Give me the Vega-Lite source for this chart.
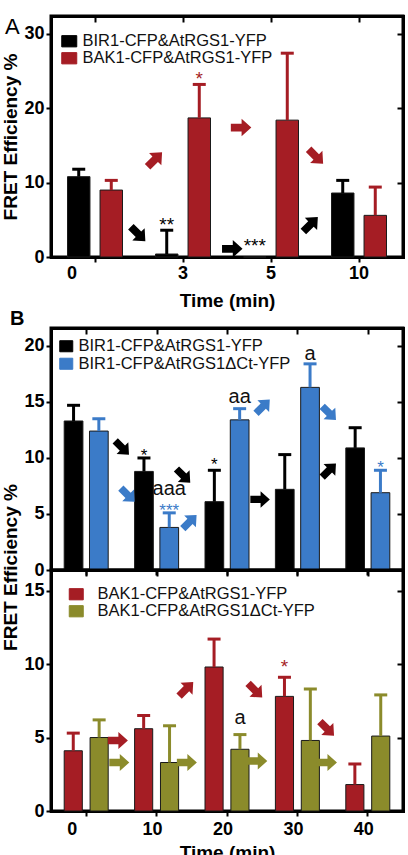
{
  "$schema": "https://vega.github.io/schema/vega-lite/v6.json",
  "background": "white",
  "padding": {"left": 0, "top": 13, "right": 0, "bottom": 0},
  "config": {
    "font": "Liberation Sans",
    "view": {"stroke": "#000", "strokeWidth": 3},
    "axis": {"domain": true, "domainColor": "#000", "domainWidth": 3, "domainCap": "square", "grid": false, "tickColor": "#000", "tickWidth": 2, "tickSize": 5, "labelFont": "Liberation Sans", "labelFontSize": 18, "labelFontWeight": "bold", "labelColor": "#000", "labelPadding": 2, "titleFont": "Liberation Sans", "titleFontSize": 19, "titleFontWeight": "bold", "titleColor": "#000"},
    "title": {"font": "Liberation Sans", "color": "#000"},
    "text": {"font": "Liberation Sans"},
    "tick": {"opacity": 1},
    "point": {"opacity": 1}
  },
  "datasets": {
    "A_bars": [
      {"time": "0", "series": "BIR1-CFP&AtRGS1-YFP", "fret": 10.8, "upper": 11.8},
      {"time": "0", "series": "BAK1-CFP&AtRGS1-YFP", "fret": 9.0, "upper": 10.3},
      {"time": "3", "series": "BIR1-CFP&AtRGS1-YFP", "fret": 0.4, "upper": 3.6},
      {"time": "3", "series": "BAK1-CFP&AtRGS1-YFP", "fret": 18.7, "upper": 23.2},
      {"time": "5", "series": "BIR1-CFP&AtRGS1-YFP", "fret": 0, "upper": null},
      {"time": "5", "series": "BAK1-CFP&AtRGS1-YFP", "fret": 18.4, "upper": 27.4},
      {"time": "10", "series": "BIR1-CFP&AtRGS1-YFP", "fret": 8.6, "upper": 10.3},
      {"time": "10", "series": "BAK1-CFP&AtRGS1-YFP", "fret": 5.6, "upper": 9.4}
    ],
    "A_notes": [
      {"time": "3", "series": "BIR1-CFP&AtRGS1-YFP", "label": "**", "kind": "star", "level": 4.7},
      {"time": "3", "series": "BAK1-CFP&AtRGS1-YFP", "label": "*", "kind": "star", "level": 24.4},
      {"time": "5", "series": "BIR1-CFP&AtRGS1-YFP", "label": "***", "kind": "star", "level": 1.9}
    ],
    "A_arrows": [
      {"series": "BIR1-CFP&AtRGS1-YFP", "pos": 0.99, "level": 3.1, "dir": "down-right"},
      {"series": "BAK1-CFP&AtRGS1-YFP", "pos": 1.18, "level": 13.1, "dir": "up-right"},
      {"series": "BAK1-CFP&AtRGS1-YFP", "pos": 2.16, "level": 17.4, "dir": "right"},
      {"series": "BIR1-CFP&AtRGS1-YFP", "pos": 2.06, "level": 1.1, "dir": "right"},
      {"series": "BAK1-CFP&AtRGS1-YFP", "pos": 3.01, "level": 13.5, "dir": "down-right"},
      {"series": "BIR1-CFP&AtRGS1-YFP", "pos": 2.95, "level": 4.4, "dir": "up-right"}
    ],
    "B1_bars": [
      {"time": "0", "series": "BIR1-CFP&AtRGS1-YFP", "fret": 13.3, "upper": 14.7},
      {"time": "0", "series": "BIR1-CFP&AtRGS1ΔCt-YFP", "fret": 12.4, "upper": 13.5},
      {"time": "10", "series": "BIR1-CFP&AtRGS1-YFP", "fret": 8.8, "upper": 10.0},
      {"time": "10", "series": "BIR1-CFP&AtRGS1ΔCt-YFP", "fret": 3.8, "upper": 5.1},
      {"time": "20", "series": "BIR1-CFP&AtRGS1-YFP", "fret": 6.1, "upper": 8.9},
      {"time": "20", "series": "BIR1-CFP&AtRGS1ΔCt-YFP", "fret": 13.4, "upper": 14.4},
      {"time": "30", "series": "BIR1-CFP&AtRGS1-YFP", "fret": 7.2, "upper": 10.3},
      {"time": "30", "series": "BIR1-CFP&AtRGS1ΔCt-YFP", "fret": 16.3, "upper": 18.4},
      {"time": "40", "series": "BIR1-CFP&AtRGS1-YFP", "fret": 10.9, "upper": 12.7},
      {"time": "40", "series": "BIR1-CFP&AtRGS1ΔCt-YFP", "fret": 6.9, "upper": 8.9}
    ],
    "B1_notes": [
      {"time": "10", "series": "BIR1-CFP&AtRGS1-YFP", "label": "*", "kind": "star", "level": 10.4},
      {"time": "10", "series": "BIR1-CFP&AtRGS1ΔCt-YFP", "label": "***", "kind": "star", "level": 5.5},
      {"time": "20", "series": "BIR1-CFP&AtRGS1-YFP", "label": "*", "kind": "star", "level": 9.6},
      {"time": "40", "series": "BIR1-CFP&AtRGS1ΔCt-YFP", "label": "*", "kind": "star", "level": 9.4},
      {"time": "10", "series": "BIR1-CFP&AtRGS1ΔCt-YFP", "label": "aaa", "kind": "letter", "level": 7.2},
      {"time": "20", "series": "BIR1-CFP&AtRGS1ΔCt-YFP", "label": "aa", "kind": "letter", "level": 15.4},
      {"time": "30", "series": "BIR1-CFP&AtRGS1ΔCt-YFP", "label": "a", "kind": "letter", "level": 19.3}
    ],
    "B1_arrows": [
      {"series": "BIR1-CFP&AtRGS1-YFP", "pos": 1.01, "level": 10.9, "dir": "down-right"},
      {"series": "BIR1-CFP&AtRGS1ΔCt-YFP", "pos": 1.09, "level": 6.7, "dir": "down-right"},
      {"series": "BIR1-CFP&AtRGS1-YFP", "pos": 1.88, "level": 8.4, "dir": "down-right"},
      {"series": "BIR1-CFP&AtRGS1ΔCt-YFP", "pos": 1.97, "level": 4.3, "dir": "up-right"},
      {"series": "BIR1-CFP&AtRGS1ΔCt-YFP", "pos": 3.01, "level": 14.6, "dir": "up-right"},
      {"series": "BIR1-CFP&AtRGS1-YFP", "pos": 2.97, "level": 6.3, "dir": "right"},
      {"series": "BIR1-CFP&AtRGS1ΔCt-YFP", "pos": 3.95, "level": 14.0, "dir": "down-right"},
      {"series": "BIR1-CFP&AtRGS1-YFP", "pos": 3.95, "level": 8.9, "dir": "up-right"}
    ],
    "B2_bars": [
      {"time": "0", "series": "BAK1-CFP&AtRGS1-YFP", "fret": 4.1, "upper": 5.3},
      {"time": "0", "series": "BAK1-CFP&AtRGS1ΔCt-YFP", "fret": 5.0, "upper": 6.2},
      {"time": "10", "series": "BAK1-CFP&AtRGS1-YFP", "fret": 5.6, "upper": 6.5},
      {"time": "10", "series": "BAK1-CFP&AtRGS1ΔCt-YFP", "fret": 3.3, "upper": 5.8},
      {"time": "20", "series": "BAK1-CFP&AtRGS1-YFP", "fret": 9.8, "upper": 11.7},
      {"time": "20", "series": "BAK1-CFP&AtRGS1ΔCt-YFP", "fret": 4.2, "upper": 5.2},
      {"time": "30", "series": "BAK1-CFP&AtRGS1-YFP", "fret": 7.8, "upper": 9.1},
      {"time": "30", "series": "BAK1-CFP&AtRGS1ΔCt-YFP", "fret": 4.8, "upper": 8.3},
      {"time": "40", "series": "BAK1-CFP&AtRGS1-YFP", "fret": 1.8, "upper": 3.2},
      {"time": "40", "series": "BAK1-CFP&AtRGS1ΔCt-YFP", "fret": 5.1, "upper": 7.9}
    ],
    "B2_notes": [
      {"time": "30", "series": "BAK1-CFP&AtRGS1-YFP", "label": "*", "kind": "star", "level": 10.0},
      {"time": "20", "series": "BAK1-CFP&AtRGS1ΔCt-YFP", "label": "a", "kind": "letter", "level": 6.3}
    ],
    "B2_arrows": [
      {"series": "BAK1-CFP&AtRGS1-YFP", "pos": 0.95, "level": 4.8, "dir": "right"},
      {"series": "BAK1-CFP&AtRGS1ΔCt-YFP", "pos": 0.97, "level": 3.3, "dir": "right"},
      {"series": "BAK1-CFP&AtRGS1ΔCt-YFP", "pos": 1.93, "level": 3.3, "dir": "right"},
      {"series": "BAK1-CFP&AtRGS1-YFP", "pos": 1.92, "level": 8.3, "dir": "up-right"},
      {"series": "BAK1-CFP&AtRGS1ΔCt-YFP", "pos": 2.93, "level": 3.4, "dir": "right"},
      {"series": "BAK1-CFP&AtRGS1-YFP", "pos": 2.90, "level": 8.2, "dir": "down-right"},
      {"series": "BAK1-CFP&AtRGS1ΔCt-YFP", "pos": 3.92, "level": 3.3, "dir": "right"},
      {"series": "BAK1-CFP&AtRGS1-YFP", "pos": 3.92, "level": 5.6, "dir": "down-right"}
    ]
  },
  "bounds": "flush",
  "spacing": 71,
  "resolve": {"scale": {"color": "independent", "x": "independent", "y": "independent", "xOffset": "independent"}},
  "vconcat": [
    {
      "width": 352, "height": 241,
      "title": {"text": "A", "anchor": "start", "frame": "group", "offset": -24, "dx": -46, "fontSize": 22, "fontWeight": "normal"},
      "resolve": {"scale": {"x": "independent"}, "axis": {"x": "independent", "y": "independent"}},
      "layer": [
        {"layer": [
          {"data": {"name": "A_bars"},
           "mark": {"type": "bar", "stroke": "#1a1a1a", "strokeWidth": 1, "opacity": 1},
           "encoding": {
             "x": {"field": "time", "type": "nominal", "scale": {"type": "band", "domain": ["0", "3", "5", "10"], "paddingInner": 0.375, "paddingOuter": 0.1875}, "axis": {"title": "Time (min)", "labelAngle": 0, "titlePadding": 9, "labelOffset": {"condition": {"test": "datum.value == '0'", "value": -23}, "value": 0}}},
             "xOffset": {"field": "series", "type": "nominal", "scale": {"domain": ["BIR1-CFP&AtRGS1-YFP", "BAK1-CFP&AtRGS1-YFP"], "paddingInner": 0.31, "paddingOuter": 0}},
             "y": {"field": "fret", "type": "quantitative", "scale": {"domain": [0, 32.4], "nice": false}, "axis": {"values": [0, 10, 20, 30], "title": "FRET Efficiency %", "titlePadding": 3}},
             "color": {"field": "series", "type": "nominal", "scale": {"domain": ["BIR1-CFP&AtRGS1-YFP", "BAK1-CFP&AtRGS1-YFP"], "range": ["#000000", "#a51d24"]},
               "legend": {"title": null, "orient": "none", "legendX": 10, "legendY": 17, "padding": 0, "symbolType": "M-1,-0.75H1V0.75H-1Z", "symbolSize": 225, "symbolOpacity": 1, "symbolStrokeColor": "#111", "symbolStrokeWidth": 1, "labelFontSize": 16.5, "labelFont": "Liberation Sans", "labelColor": "#111", "labelOffset": 5, "rowPadding": -1.5, "labelLimit": 400}}
           }},
          {"data": {"name": "A_bars"}, "transform": [{"filter": "isValid(datum.upper)"}],
           "mark": {"type": "rule", "strokeWidth": 3, "opacity": 1},
           "encoding": {"x": {"field": "time", "type": "nominal"}, "xOffset": {"field": "series", "type": "nominal"}, "y": {"field": "fret", "type": "quantitative"}, "y2": {"field": "upper"}, "color": {"field": "series", "type": "nominal"}}},
          {"data": {"name": "A_bars"}, "transform": [{"filter": "isValid(datum.upper)"}],
           "mark": {"type": "tick", "thickness": 3, "size": 13, "opacity": 1},
           "encoding": {"x": {"field": "time", "type": "nominal"}, "xOffset": {"field": "series", "type": "nominal"}, "y": {"field": "upper", "type": "quantitative"}, "color": {"field": "series", "type": "nominal"}}},
          {"data": {"name": "A_notes"}, "transform": [{"filter": "datum.kind == 'star'"}],
           "mark": {"type": "text", "fontSize": 19, "baseline": "middle", "dy": 3},
           "encoding": {"x": {"field": "time", "type": "nominal"}, "xOffset": {"field": "series", "type": "nominal"}, "y": {"field": "level", "type": "quantitative"}, "text": {"field": "label"}, "color": {"field": "series", "type": "nominal"}}}
        ]},
        {"data": {"name": "A_arrows"},
         "mark": {"type": "point", "shape": "M-1,-0.38L0.05,-0.38L0.05,-0.85L1,0L0.05,0.85L0.05,0.38L-1,0.38Z", "filled": true, "size": 420, "opacity": 1, "strokeWidth": 0},
         "encoding": {
           "x": {"field": "pos", "type": "quantitative", "scale": {"domain": [0, 4], "nice": false}, "axis": {"orient": "top", "values": [0.5, 1.5, 2.5, 3.5], "labels": false, "title": null, "tickSize": -6}},
           "y": {"field": "level", "type": "quantitative", "scale": {"domain": [0, 32.4], "nice": false}, "axis": {"orient": "right", "values": [0, 10, 20, 30], "labels": false, "title": null, "tickSize": -6}},
           "color": {"field": "series", "type": "nominal"},
           "angle": {"field": "dir", "type": "nominal", "scale": {"type": "ordinal", "domain": ["right", "down-right", "up-right"], "range": [0, 45, 315]}, "legend": null}
         }}
      ]
    },
    {
      "bounds": "flush",
      "spacing": 0,
      "resolve": {"scale": {"color": "independent", "x": "independent", "y": "independent", "xOffset": "independent"}},
      "vconcat": [
        {
          "width": 352, "height": 242,
          "title": {"text": "B", "anchor": "start", "frame": "group", "offset": -2, "dx": -41, "fontSize": 20, "fontWeight": "bold"},
          "resolve": {"scale": {"x": "independent"}, "axis": {"x": "independent", "y": "independent"}},
          "layer": [
            {"layer": [
              {"data": {"name": "B1_bars"},
               "mark": {"type": "bar", "stroke": "#1a1a1a", "strokeWidth": 1, "opacity": 1},
               "encoding": {
                 "x": {"field": "time", "type": "nominal", "scale": {"type": "band", "domain": ["0", "10", "20", "30", "40"], "paddingInner": 0.375, "paddingOuter": 0.1875}, "axis": {"title": null, "labels": false}},
                 "xOffset": {"field": "series", "type": "nominal", "scale": {"domain": ["BIR1-CFP&AtRGS1-YFP", "BIR1-CFP&AtRGS1ΔCt-YFP"], "paddingInner": 0.26, "paddingOuter": 0}},
                 "y": {"field": "fret", "type": "quantitative", "scale": {"domain": [0, 21.6], "nice": false}, "axis": {"values": [0, 5, 10, 15, 20], "title": "FRET Efficiency %", "titlePadding": 3, "titleY": 239}},
                 "color": {"field": "series", "type": "nominal", "scale": {"domain": ["BIR1-CFP&AtRGS1-YFP", "BIR1-CFP&AtRGS1ΔCt-YFP"], "range": ["#000000", "#3b7bc8"]},
                   "legend": {"title": null, "orient": "none", "legendX": 7, "legendY": 10, "padding": 0, "symbolType": "M-1,-0.85H1V0.85H-1Z", "symbolSize": 169, "symbolOpacity": 1, "symbolStrokeColor": "#111", "symbolStrokeWidth": 1, "labelFontSize": 16.5, "labelFont": "Liberation Sans", "labelColor": "#111", "labelOffset": 4, "rowPadding": 0.5, "labelLimit": 400}}
               }},
              {"data": {"name": "B1_bars"},
               "mark": {"type": "rule", "strokeWidth": 3, "opacity": 1},
               "encoding": {"x": {"field": "time", "type": "nominal"}, "xOffset": {"field": "series", "type": "nominal"}, "y": {"field": "fret", "type": "quantitative"}, "y2": {"field": "upper"}, "color": {"field": "series", "type": "nominal"}}},
              {"data": {"name": "B1_bars"},
               "mark": {"type": "tick", "thickness": 3, "size": 13, "opacity": 1},
               "encoding": {"x": {"field": "time", "type": "nominal"}, "xOffset": {"field": "series", "type": "nominal"}, "y": {"field": "upper", "type": "quantitative"}, "color": {"field": "series", "type": "nominal"}}},
              {"data": {"name": "B1_notes"}, "transform": [{"filter": "datum.kind == 'star'"}],
               "mark": {"type": "text", "fontSize": 17, "baseline": "middle", "dy": 3},
               "encoding": {"x": {"field": "time", "type": "nominal"}, "xOffset": {"field": "series", "type": "nominal"}, "y": {"field": "level", "type": "quantitative"}, "text": {"field": "label"}, "color": {"field": "series", "type": "nominal"}}},
              {"data": {"name": "B1_notes"}, "transform": [{"filter": "datum.kind == 'letter'"}],
               "mark": {"type": "text", "fontSize": 20, "baseline": "middle", "color": "#111"},
               "encoding": {"x": {"field": "time", "type": "nominal"}, "xOffset": {"field": "series", "type": "nominal"}, "y": {"field": "level", "type": "quantitative"}, "text": {"field": "label"}}}
            ]},
            {"data": {"name": "B1_arrows"},
             "mark": {"type": "point", "shape": "M-1,-0.38L0.05,-0.38L0.05,-0.85L1,0L0.05,0.85L0.05,0.38L-1,0.38Z", "filled": true, "size": 380, "opacity": 1, "strokeWidth": 0},
             "encoding": {
               "x": {"field": "pos", "type": "quantitative", "scale": {"domain": [0, 5], "nice": false}, "axis": {"orient": "top", "values": [0.5, 1.5, 2.5, 3.5, 4.5], "labels": false, "title": null, "tickSize": -6}},
               "y": {"field": "level", "type": "quantitative", "scale": {"domain": [0, 21.6], "nice": false}, "axis": {"orient": "right", "values": [0, 5, 10, 15, 20], "labels": false, "title": null, "tickSize": -6}},
               "color": {"field": "series", "type": "nominal"},
               "angle": {"field": "dir", "type": "nominal", "scale": {"type": "ordinal", "domain": ["right", "down-right", "up-right"], "range": [0, 45, 315]}, "legend": null}
             }}
          ]
        },
        {
          "width": 352, "height": 241,
          "resolve": {"scale": {"x": "independent"}, "axis": {"x": "independent", "y": "independent"}},
          "layer": [
            {"layer": [
              {"data": {"name": "B2_bars"},
               "mark": {"type": "bar", "stroke": "#1a1a1a", "strokeWidth": 1, "opacity": 1},
               "encoding": {
                 "x": {"field": "time", "type": "nominal", "scale": {"type": "band", "domain": ["0", "10", "20", "30", "40"], "paddingInner": 0.375, "paddingOuter": 0.1875}, "axis": {"title": "Time (min)", "labelAngle": 0, "labelPadding": 4, "titlePadding": 5, "labelOffset": {"condition": {"test": "datum.value == '0'", "value": -14}, "value": -4}}},
                 "xOffset": {"field": "series", "type": "nominal", "scale": {"domain": ["BAK1-CFP&AtRGS1-YFP", "BAK1-CFP&AtRGS1ΔCt-YFP"], "paddingInner": 0.3, "paddingOuter": 0}},
                 "y": {"field": "fret", "type": "quantitative", "scale": {"domain": [0, 16.4], "nice": false}, "axis": {"values": [0, 5, 10, 15], "title": null}},
                 "color": {"field": "series", "type": "nominal", "scale": {"domain": ["BAK1-CFP&AtRGS1-YFP", "BAK1-CFP&AtRGS1ΔCt-YFP"], "range": ["#a51d24", "#8b8b2b"]},
                   "legend": {"title": null, "orient": "none", "legendX": 17, "legendY": 16, "padding": 0, "symbolType": "M-1,-0.8H1V0.8H-1Z", "symbolSize": 196, "symbolOpacity": 1, "symbolStrokeColor": "#111", "symbolStrokeWidth": 1, "labelFontSize": 16.5, "labelFont": "Liberation Sans", "labelColor": "#111", "labelOffset": 13, "rowPadding": -1.5, "labelLimit": 400}}
               }},
              {"data": {"name": "B2_bars"},
               "mark": {"type": "rule", "strokeWidth": 3, "opacity": 1},
               "encoding": {"x": {"field": "time", "type": "nominal"}, "xOffset": {"field": "series", "type": "nominal"}, "y": {"field": "fret", "type": "quantitative"}, "y2": {"field": "upper"}, "color": {"field": "series", "type": "nominal"}}},
              {"data": {"name": "B2_bars"},
               "mark": {"type": "tick", "thickness": 3, "size": 13, "opacity": 1},
               "encoding": {"x": {"field": "time", "type": "nominal"}, "xOffset": {"field": "series", "type": "nominal"}, "y": {"field": "upper", "type": "quantitative"}, "color": {"field": "series", "type": "nominal"}}},
              {"data": {"name": "B2_notes"}, "transform": [{"filter": "datum.kind == 'star'"}],
               "mark": {"type": "text", "fontSize": 19, "baseline": "middle", "dy": 3},
               "encoding": {"x": {"field": "time", "type": "nominal"}, "xOffset": {"field": "series", "type": "nominal"}, "y": {"field": "level", "type": "quantitative"}, "text": {"field": "label"}, "color": {"field": "series", "type": "nominal"}}},
              {"data": {"name": "B2_notes"}, "transform": [{"filter": "datum.kind == 'letter'"}],
               "mark": {"type": "text", "fontSize": 20, "baseline": "middle", "color": "#111"},
               "encoding": {"x": {"field": "time", "type": "nominal"}, "xOffset": {"field": "series", "type": "nominal"}, "y": {"field": "level", "type": "quantitative"}, "text": {"field": "label"}}}
            ]},
            {"data": {"name": "B2_arrows"},
             "mark": {"type": "point", "shape": "M-1,-0.38L0.05,-0.38L0.05,-0.85L1,0L0.05,0.85L0.05,0.38L-1,0.38Z", "filled": true, "size": 400, "opacity": 1, "strokeWidth": 0},
             "encoding": {
               "x": {"field": "pos", "type": "quantitative", "scale": {"domain": [0, 5], "nice": false}, "axis": {"orient": "top", "values": [0.5, 1.5, 2.5, 3.5, 4.5], "labels": false, "title": null, "tickSize": -6}},
               "y": {"field": "level", "type": "quantitative", "scale": {"domain": [0, 16.4], "nice": false}, "axis": {"orient": "right", "values": [0, 5, 10, 15], "labels": false, "title": null, "tickSize": -6}},
               "color": {"field": "series", "type": "nominal"},
               "angle": {"field": "dir", "type": "nominal", "scale": {"type": "ordinal", "domain": ["right", "down-right", "up-right"], "range": [0, 45, 315]}, "legend": null}
             }}
          ]
        }
      ]
    }
  ]
}
